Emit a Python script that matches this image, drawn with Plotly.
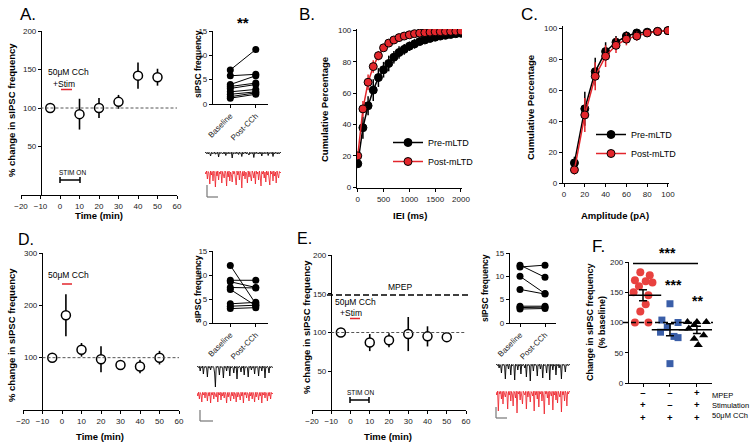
import plotly.graph_objects as go

W, H = 754, 448
FONT = "Liberation Sans, Arial, sans-serif"
RED = "#e3262c"


def px(x):
    return x / W


def py(y):
    return 1 - y / H


# ---------------- data ----------------
# Panel A (50uM CCh + Stim)
time_A = [-5, 10, 20, 30, 40, 50]
freq_A = [100, 92, 100, 108, 142, 140]
err_A = [0, 20, 13, 9, 17, 11]
base_A = [7.0, 5.8, 4.0, 3.6, 3.2, 2.5, 2.0, 1.5, 1.2]
post_A = [11.2, 6.1, 5.8, 4.3, 4.0, 3.0, 2.5, 2.3, 2.0]

# Panel B (IEI cumulative)
iei_B = [0, 100, 200, 300, 400, 500, 600, 700, 800, 900, 1000,
         1100, 1200, 1300, 1400, 1500, 1600, 1700, 1800, 1900, 2000]
pre_B = [15, 38, 52, 62, 70, 75, 79, 83, 86, 88, 90,
         91.5, 93, 94, 95, 95.8, 96.5, 97, 97.5, 98, 98.3]
pre_B_err = [2, 7, 6, 7, 6, 5, 5, 4, 4, 3.5, 3,
             3, 2.5, 2, 2, 1.5, 1.5, 1.2, 1, 1, 1]
post_B = [20, 50, 67, 77, 84, 89, 92, 94, 95.5, 96.5, 97.3,
          98, 98.4, 98.7, 99, 99.2, 99.3, 99.4, 99.5, 99.6, 99.7]
post_B_err = [2, 5, 5, 4, 3, 2.5, 2, 1.5, 1.2, 1, 1,
              0.8, 0.7, 0.6, 0.5, 0.5, 0.4, 0.4, 0.3, 0.3, 0.3]

# Panel C (amplitude cumulative)
amp_C = [10, 20, 30, 40, 50, 60, 70, 80, 90, 100]
pre_C = [13, 48, 72, 85, 91, 95, 97, 97.5, 98, 98.5]
pre_C_err = [4, 11, 9, 6, 4, 3, 2, 1, 1, 0.5]
post_C = [8.5, 44, 69, 82, 89, 93, 95, 97, 98, 98.5]
post_C_err = [3, 11, 9, 7, 5, 4, 3, 1.5, 1, 0.5]

# Panel D (50uM CCh alone)
time_D = [-5, 2, 10, 20, 30, 40, 50]
freq_D = [100, 181, 115, 97, 86, 83, 100]
err_D = [0, 40, 13, 25, 6, 13, 13]
base_D = [12.0, 8.9, 8.6, 7.4, 7.0, 4.0, 3.5, 3.0]
post_D = [4.0, 8.9, 7.4, 7.3, 3.6, 4.3, 3.7, 3.2]

# Panel E (MPEP + CCh + Stim)
time_E = [-5, 10, 20, 30, 40, 50]
freq_E = [100, 87, 90, 98, 95, 94]
err_E = [0, 11, 9, 22, 13, 6]
base_E = [12.4, 12.0, 10.0, 7.2, 3.6, 3.3, 3.0]
post_E = [9.8, 12.4, 6.3, 6.2, 3.6, 3.4, 3.1]

# Panel F (scatter summary)
F_labels = ["MPEP", "Stimulation", "50\u03bcM CCh"]
F_table = [["\u2013", "\u2013", "+"], ["+", "\u2013", "+"], ["+", "+", "+"]]
F1_vals = [183, 178, 170, 168, 166, 160, 150, 145, 130, 118, 100, 100]
F1_jit = [-0.1, 0.25, -0.3, 0.1, 0.35, -0.15, -0.35, 0.2, 0.1, -0.1, -0.3, 0.2]
F2_vals = [131, 104, 100, 92, 84, 77, 75, 32]
F2_jit = [0.0, -0.3, 0.3, -0.1, -0.35, 0.15, 0.3, 0.0]
F3_vals = [101, 101, 101, 96, 90, 79, 73, 63]
F3_jit = [-0.35, 0.0, 0.35, -0.1, -0.3, 0.25, -0.1, 0.05]
F_mean = [145, 88, 88]
F_sem = [9, 10, 6]

# Example sIPSC traces (pA-like deflections)
trA_pre = [0, 0.8, -0.6, 0.5, -1, 0.7, -0.4, -3, 0.6, -0.8, 0.4, -0.5, 0.9, -1.2, 0.3, -0.7, 0.8, -4, 0.5, -0.6,
           0.7, -0.3, -1, 0.6, -0.8, 0.9, -2.5, 0.4, -0.6, 0.8, -0.9, 0.5, -0.4, 0.7, -5, 0.6, -0.8, 0.3, -0.6, 0.9,
           -0.7, 0.5, -1.5, 0.8, -0.5, 0.4, -3.5, 0.7, -0.8, 0.6, -0.4, 0.9, -0.9, 0.5, -0.7, -2, 0.8, -0.6, 0.4,
           -0.8, 0.7, -4.5, 0.5, -0.5, 0.9, -0.7, 0.3, -1, 0.6, -0.8, 0.8, -3, 0.4, -0.6, 0.7, -0.9, 0.5, -0.4, 0.8,
           -2.5, 0.6, -0.7, 0.4, -0.6, 0.9, -3.5, 0.5, -0.8, 0.7, -0.5, 0.6, -1, 0.4, -0.7, 0.8, 0]
trA_post = [0, -2, 1, -7, 0.5, -1, -12, 1, -3, 0.5, -9, 1, -1.5, -15, 0.5, -4, 1, -8, 0, -2, 1, -11, 0.5, -3, -6, 1,
            -1, -14, 0.5, -5, 1, -9, 0, -2.5, -10, 1, -2, 0.5, -7, -13, 1, -3, 0.5, -8, 1, -1.5, -16, 0.5, -4, 1, -7,
            0, -2, -11, 1, -5, 0.5, -3, -9, 1, -1, -6, 0.5, -12, 1, -2, 0, -8, 1, -4, -14, 0.5, -2, 1, -6, 0, -10, 1,
            -3, 0.5, -7, -13, 1, -2, 0.5, -9, 1, -4, 0, -11, 1, -2, -6, 0.5, -1, 0]
trD_pre = [0, 0.7, -0.5, 0.6, -4, 0.5, -0.7, 0.8, -7, 0.4, -0.6, 0.7, -0.5, -10, 0.6, -0.8, 0.5, -3, 0.7, -0.4, 0.6,
           -0.7, -6, -20, 0.5, -0.6, 0.8, -0.5, -8, 0.6, -0.7, 0.4, -0.5, -11, 0.7, -0.6, 0.5, -4, 0.8, -0.5, 0.6,
           -9, 0.4, -0.7, 0.6, -0.5, -6, 0.7, -0.8, 0.5, -12, 0.4, -0.6, 0.7, -0.5, -5, 0.6, -0.7, 0.8, -8, 0.5,
           -0.6, 0.4, -0.7, -10, 0.6, -0.5, 0.7, -3, 0.5, -0.8, 0.6, -7, 0.4, -0.6, 0.7, -0.5, -9, 0.6, -0.7, 0.5,
           -4, 0.8, -0.5, 0.6, -11, 0.4, -0.6, 0.7, -0.5, -6, 0.6, -0.7, 0.5, -0.4, 0]
trD_post = [0, -3, 0.8, -6, 0.5, -1, -9, 0.7, -2, 0.6, -5, 0.8, -1, -8, 0.5, -3, 0.7, -10, 0.4, -2, 0.8, -6, 0.5, -1,
            -4, 0.7, -9, 0.5, -2, 0.8, -7, 0.4, -3, 0.6, -5, 0.8, -1, -10, 0.5, -4, 0.7, -2, -8, 0.6, -3, 0.8, -6,
            0.5, -1, -9, 0.7, -4, 0.5, -2, -7, 0.8, -3, 0.6, -10, 0.5, -2, 0.7, -5, 0.4, -1, -8, 0.8, -3, 0.5, -6,
            0.7, -2, -9, 0.6, -4, 0.8, -1, -7, 0.5, -3, 0.7, -10, 0.4, -2, 0.8, -5, 0.6, -1, -8, 0.5, -3, 0.7, -6,
            0.5, -1, 0]
trE_pre = [0, 0.7, -0.5, 0.6, -3, 0.5, -0.7, -8, 0.6, -0.5, 0.7, -0.6, -14, 0.5, -0.7, 0.6, -4, 0.8, -0.5, -10, 0.6,
           -0.7, 0.5, -0.6, -15, 0.7, -0.5, 0.6, -5, 0.4, -0.7, 0.8, -9, 0.5, -0.6, 0.7, -0.5, -3, 0.6, -12, 0.5,
           -0.7, 0.6, -0.5, -16, 0.7, -0.6, 0.5, -6, 0.8, -0.5, 0.6, -0.7, -11, 0.5, -0.6, 0.7, -4, 0.6, -0.5, -13,
           0.7, -0.6, 0.5, -0.7, -8, 0.6, -0.5, 0.7, -15, 0.5, -0.6, 0.8, -5, 0.6, -0.7, 0.5, -10, 0.7, -0.5, 0.6,
           -3, 0.5, -0.7, -14, 0.6, -0.5, 0.7, -0.6, -7, 0.5, -0.6, 0.7, -0.5, 0.6, 0]
trE_post = [0, -3, 0.8, -19, 0.5, -2, 0.7, -7, 0.5, -12, 0.8, -2, -5, 0.6, -1, -17, 0.5, -3, 0.8, -9, 0.5, -2, -14,
            0.7, -1, -6, 0.8, -21, 0.5, -2, 0.7, -8, 0.5, -4, -12, 0.8, -1, -3, 0.6, -17, 0.5, -5, 0.8, -2, -10, 0.5,
            -1, -4, 0.7, -19, 0.8, -3, 0.5, -7, 0.8, -15, 0.5, -2, 0.7, -9, 0.5, -4, -22, 0.8, -2, 0.6, -6, 0.5, -13,
            0.8, -1, -4, 0.7, -18, 0.5, -3, 0.8, -8, 0.5, -11, 0.7, -2, -5, 0.8, -20, 0.5, -3, 0.6, -9, 0.8, -1, -14,
            0.5, -2, 0.7, 0]

inset_ticks = ["Baseline", "Post-CCh"]

# ---------------- layout helpers ----------------
layout = dict(
    template="none",
    width=W, height=H, margin=dict(l=0, r=0, t=0, b=0, pad=0, autoexpand=False),
    paper_bgcolor="white", plot_bgcolor="rgba(0,0,0,0)",
    font=dict(family=FONT, size=8.5, color="black"),
    showlegend=True,
)


def base_axis():
    return dict(showgrid=False, zeroline=False, showline=True, linecolor="black", automargin=False,
                linewidth=1.2, ticks="outside", ticklen=3, tickwidth=1.2,
                tickcolor="black", tickfont=dict(size=8, family=FONT, color="#222"))


def add_axes(n, xdom, ydom, xr, yr, xkw=None, ykw=None):
    sx = "" if n == 1 else str(n)
    xa = base_axis()
    xa.update(domain=[px(xdom[0]), px(xdom[1])], range=xr, anchor="y" + sx)
    xa.update(xkw or {})
    ya = base_axis()
    ya.update(domain=[py(ydom[1]), py(ydom[0])], range=yr, anchor="x" + sx)
    ya.update(ykw or {})
    layout["xaxis" + sx] = xa
    layout["yaxis" + sx] = ya
    return "x" + sx, "y" + sx


traces = []
shapes = []
annotations = []


def txt(x, y, s, size=8.5, bold=False, angle=0, xanchor="center", color="black", align="center"):
    annotations.append(dict(
        x=px(x), y=py(y), xref="paper", yref="paper",
        text=f"<b>{s}</b>" if bold else s, showarrow=False, align=align, borderpad=0,
        font=dict(size=size, family=FONT, color=color), textangle=angle,
        xanchor=xanchor, yanchor="middle"))


def pline(x0, y0, x1, y1, color="black", width=1.2, dash="solid"):
    shapes.append(dict(type="line", xref="paper", yref="paper",
                       x0=px(x0), y0=py(y0), x1=px(x1), y1=py(y1),
                       line=dict(color=color, width=width, dash=dash)))


def time_course(n, xdom, ydom, yr, yticks, yaxis_x, t, v, e):
    xa, ya = add_axes(n, xdom, ydom, [-20, 60], yr,
                      xkw=dict(tickvals=list(range(-20, 61, 10))),
                      ykw=dict(tickvals=yticks, anchor="free", position=px(yaxis_x)))
    shapes.append(dict(type="line", xref=xa, yref=ya, x0=-10, x1=60, y0=100, y1=100,
                       line=dict(color="#555", width=1, dash="3px,2px")))
    traces.append(go.Scatter(
        x=t, y=v, xaxis=xa, yaxis=ya, mode="markers", showlegend=False,
        error_y=dict(type="data", array=e, color="black", thickness=1.6, width=0),
        marker=dict(symbol="circle", size=9, color="white", line=dict(color="black", width=1.5))))


def paired_inset(n, xdom, ydom, base, post):
    xa, ya = add_axes(n, xdom, ydom, [-0.68, 1.48] if xdom[1] - xdom[0] > 50 else [-0.4, 1.44], [0, 15],
                      xkw=dict(tickvals=[0, 1], ticktext=inset_ticks, tickangle=-45),
                      ykw=dict(tickvals=[0, 5, 10, 15]))
    xs, ys = [], []
    for b, p in zip(base, post):
        xs += [0, 1, None]
        ys += [b, p, None]
    traces.append(go.Scatter(x=xs, y=ys, xaxis=xa, yaxis=ya, mode="lines+markers",
                             showlegend=False, line=dict(color="black", width=1),
                             marker=dict(size=7, color="black")))


def example_traces(n, xdom, ydom, pre, post, pre_off, post_off):
    xa, ya = add_axes(n, xdom, ydom, [0, len(pre) - 1], [-(ydom[1] - ydom[0]), 0],
                      xkw=dict(visible=False), ykw=dict(visible=False))
    traces.append(go.Scatter(x=list(range(len(pre))), y=[pre_off + v for v in pre],
                             xaxis=xa, yaxis=ya, mode="lines", showlegend=False,
                             line=dict(color="black", width=0.9)))
    traces.append(go.Scatter(x=list(range(len(post))), y=[post_off + v for v in post],
                             xaxis=xa, yaxis=ya, mode="lines", showlegend=False,
                             line=dict(color="#ee1c24", width=0.8)))


def scale_bar(x, y0, y1, x1):
    pline(x, y0, x, y1, color="#777", width=1.2)
    pline(x, y1, x1, y1, color="#777", width=1.2)


# ---------------- Panel A ----------------
time_course(1, (21, 177), (31, 195), [-13, 200], [50, 100, 150, 200], 41, time_A, freq_A, err_A)
txt(11, 110, "% change in sIPSC frequency", size=9.5, bold=True, angle=-90)
txt(99, 215, "Time (min)", size=9.5, bold=True)
txt(68, 72, "50\u03bcM CCh", size=8.5)
txt(64, 84, "+Stim", size=8.5)
pline(61, 89.5, 72, 89.5, color=RED, width=1.5)
txt(72, 172, "STIM ON", size=6.5)
pline(60, 180, 80, 180, width=1.5)
pline(60, 177, 60, 183, width=1.5)
pline(80, 177, 80, 183, width=1.5)
txt(28, 14, "A.", size=17)

paired_inset(2, (213, 268), (31, 104), base_A, post_A)
txt(198, 64, "sIPSC frequency", size=8.5, bold=True, angle=-90)
txt(243, 22, "**", size=15, bold=True)
example_traces(3, (205, 281), (145, 195), trA_pre, trA_post, -8, -27)
scale_bar(207, 185, 197, 218)

# ---------------- Panel B ----------------
xa, ya = add_axes(4, (357, 462), (29, 188), [-15, 2020], [-0.5, 101],
                  xkw=dict(tickvals=[0, 500, 1000, 1500, 2000]),
                  ykw=dict(tickvals=[0, 20, 40, 60, 80, 100]))
traces.append(go.Scatter(x=iei_B, y=pre_B, xaxis=xa, yaxis=ya, mode="lines+markers",
                         name="Pre-mLTD", legend="legend",
                         line=dict(color="black", width=1.5),
                         error_y=dict(type="data", array=pre_B_err, color="black", thickness=1.5, width=0),
                         marker=dict(size=8, color="black", line=dict(color="black", width=1))))
traces.append(go.Scatter(x=iei_B, y=post_B, xaxis=xa, yaxis=ya, mode="lines+markers",
                         name="Post-mLTD", legend="legend",
                         line=dict(color=RED, width=1.5),
                         error_y=dict(type="data", array=post_B_err, color=RED, thickness=1.5, width=0),
                         marker=dict(size=8, color=RED, line=dict(color="black", width=1))))
txt(324, 110, "Cumulative Percentage", size=9.5, bold=True, angle=-90)
txt(410, 215, "IEI (ms)", size=9.5, bold=True)
txt(307, 14, "B.", size=17)

# ---------------- Panel C ----------------
xa, ya = add_axes(5, (563, 669), (26, 183), [-1, 101], [0, 101.5],
                  xkw=dict(tickvals=[0, 20, 40, 60, 80, 100]),
                  ykw=dict(tickvals=[0, 20, 40, 60, 80, 100]))
traces.append(go.Scatter(x=amp_C, y=pre_C, xaxis=xa, yaxis=ya, mode="lines+markers",
                         name="Pre-mLTD", legend="legend2",
                         line=dict(color="black", width=1.5),
                         error_y=dict(type="data", array=pre_C_err, color="black", thickness=1.5, width=0),
                         marker=dict(size=8, color="black", line=dict(color="black", width=1))))
traces.append(go.Scatter(x=amp_C, y=post_C, xaxis=xa, yaxis=ya, mode="lines+markers",
                         name="Post-mLTD", legend="legend2",
                         line=dict(color=RED, width=1.5),
                         error_y=dict(type="data", array=post_C_err, color=RED, thickness=1.5, width=0),
                         marker=dict(size=8, color=RED, line=dict(color="black", width=1))))
txt(530, 108, "Cumulative Percentage", size=9.5, bold=True, angle=-90)
txt(615, 215, "Amplitude (pA)", size=9.5, bold=True)
txt(529, 14, "C.", size=17)

# ---------------- Panel D ----------------
time_course(6, (23, 179), (253, 410), [0, 300], [100, 200, 300], 42, time_D, freq_D, err_D)
txt(11, 335, "% change in sIPSC frequency", size=9.5, bold=True, angle=-90)
txt(100, 436, "Time (min)", size=9.5, bold=True)
txt(68, 275, "50\u03bcM CCh", size=8.5)
pline(62, 284, 72, 284, color=RED, width=1.5)
txt(26, 239, "D.", size=16)

paired_inset(7, (213, 268), (251, 323), base_D, post_D)
txt(198, 289, "sIPSC frequency", size=8.5, bold=True, angle=-90)
example_traces(8, (197, 273), (355, 410), trD_pre, trD_post, -12, -38)
scale_bar(200, 410, 421, 213)

# ---------------- Panel E ----------------
time_course(9, (312, 466), (255, 410), [0, 200], [50, 100, 150, 200], 331, time_E, freq_E, err_E)
txt(306, 327, "% change in sIPSC frequency", size=9.5, bold=True, angle=-90)
txt(388, 436, "Time (min)", size=9.5, bold=True)
pline(327, 295, 468, 295, width=1.5, dash="6px,3px")
txt(400, 287, "MPEP", size=8.5)
txt(355, 302, "50\u03bcM CCh", size=8.5)
txt(351, 313, "+Stim", size=8.5)
pline(350, 318.5, 360, 318.5, color=RED, width=1.5)
txt(360, 392, "STIM ON", size=6.5)
pline(350, 400, 369, 400, width=1.5)
pline(350, 397, 350, 403, width=1.5)
pline(369, 397, 369, 403, width=1.5)
txt(304, 238, "E.", size=16)

paired_inset(10, (510, 556), (253, 323), base_E, post_E)
txt(485, 288, "sIPSC frequency", size=8.5, bold=True, angle=-90)
example_traces(11, (496, 570), (350, 420), trE_pre, trE_post, -15, -42)
scale_bar(496, 407, 418, 507)

# ---------------- Panel F ----------------
xa, ya = add_axes(12, (629, 712), (262, 383), [-0.52, 2.56], [0, 200],
                  xkw=dict(tickvals=[0, 1, 2], ticktext=["", "", ""]),
                  ykw=dict(tickvals=[0, 50, 100, 150, 200]))
shapes.append(dict(type="line", xref="paper", yref=ya, x0=px(623), x1=px(713), y0=100, y1=100,
                   line=dict(color="black", width=1.5, dash="5px,3px")))
traces.append(go.Scatter(x=[0 + j for j in F1_jit], y=F1_vals, xaxis=xa, yaxis=ya, mode="markers",
                         showlegend=False, marker=dict(symbol="circle", size=8, color="#e8413f")))
traces.append(go.Scatter(x=[1 + j for j in F2_jit], y=F2_vals, xaxis=xa, yaxis=ya, mode="markers",
                         showlegend=False, marker=dict(symbol="square", size=7, color="#3a5ea8")))
traces.append(go.Scatter(x=[2 + j for j in F3_jit], y=F3_vals, xaxis=xa, yaxis=ya, mode="markers",
                         showlegend=False, marker=dict(symbol="triangle-up", size=8, color="black")))
traces.append(go.Scatter(x=[0, 1, 2], y=F_mean, xaxis=xa, yaxis=ya, mode="markers", showlegend=False,
                         error_y=dict(type="data", array=F_sem, color="black", thickness=1.5, width=4),
                         marker=dict(symbol="line-ew", size=26, line=dict(color="black", width=1.6))))
pline(633, 263.5, 698, 263.5, width=1.3)
txt(667, 253, "***", size=14, bold=True)
txt(673, 285, "***", size=14, bold=True)
txt(697, 301, "**", size=14, bold=True)
col_x = [643, 670, 697]
for c in range(3):
    txt(col_x[c], 405, "<br>".join(F_table[r][c] for r in range(3)), size=9.5, bold=True)
txt(711, 405, "<br>".join(F_labels), size=7.5, xanchor="left", align="left")
txt(596, 322, "Change in sIPSC frequency<br>(% baseline)", size=9, bold=True, angle=-90)
txt(598, 246, "F.", size=17)

legend_common = dict(xanchor="left", yanchor="top", bgcolor="rgba(0,0,0,0)",
                     font=dict(size=9, family=FONT), tracegroupgap=0, itemwidth=30)
layout["legend"] = dict(x=px(388), y=py(128), **legend_common)
layout["legend2"] = dict(x=px(591), y=py(120), **legend_common)
layout["shapes"] = shapes
layout["annotations"] = annotations

fig = go.Figure(data=traces, layout=layout)
fig.write_html("out.html", config={"displayModeBar": False},
               post_script="document.body.style.margin='0px';")
